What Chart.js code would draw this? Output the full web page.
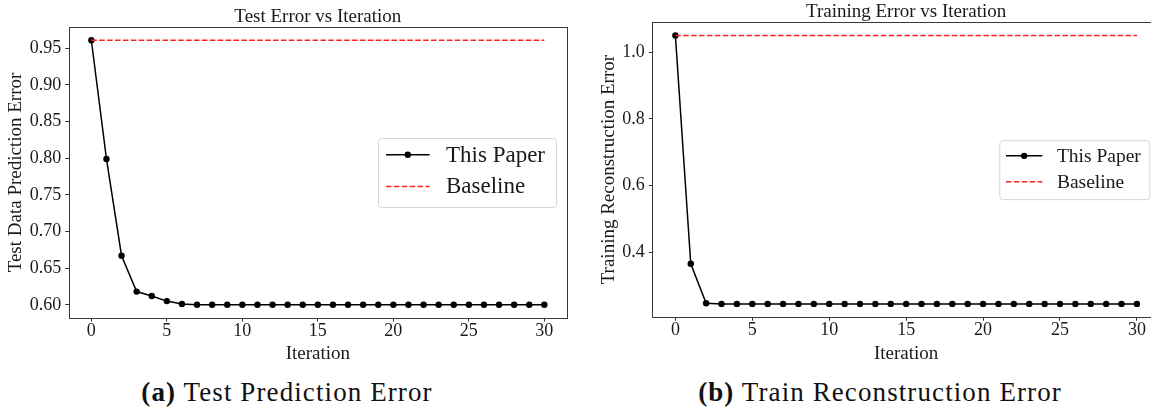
<!DOCTYPE html>
<html>
<head>
<meta charset="utf-8">
<script src="https://cdn.jsdelivr.net/npm/chart.js@4.4.1/dist/chart.umd.min.js"></script>
<style>
  html, body { margin: 0; padding: 0; background: #fff; overflow: hidden; }
  body { width: 1151px; height: 411px; position: relative; font-family: 'Liberation Serif', serif; }
  .box { position: absolute; }
  .cap { position: absolute; top: 377px; font-size: 27px; letter-spacing: 1.1px; color: #111; white-space: nowrap; transform: translateX(-50%); }
  .cap b { font-weight: bold; }
</style>
</head>
<body>
<div class="box" style="left:0;top:0;width:571px;height:366px;"><canvas id="testChart"></canvas></div>
<div class="box" style="left:590px;top:0;width:574px;height:366px;"><canvas id="trainChart"></canvas></div>
<div class="cap" style="left:287px;"><b>(a)</b> Test Prediction Error</div>
<div class="cap" style="left:880px;"><b>(b)</b> Train Reconstruction Error</div>
<script>
const iterations = [0, 1, 2, 3, 4, 5, 6, 7, 8, 9, 10, 11, 12, 13, 14, 15, 16, 17, 18, 19, 20, 21, 22, 23, 24, 25, 26, 27, 28, 29, 30];
const testError = [0.961, 0.799, 0.667, 0.618, 0.612, 0.605, 0.601, 0.600, 0.600, 0.600, 0.600, 0.600, 0.600, 0.600, 0.600, 0.600,
  0.600, 0.600, 0.600, 0.600, 0.600, 0.600, 0.600, 0.600, 0.600, 0.600, 0.600, 0.600, 0.600, 0.600, 0.600];
const trainError = [1.050, 0.366, 0.248, 0.246, 0.246, 0.246, 0.246, 0.246, 0.246, 0.246, 0.246, 0.246, 0.246, 0.246, 0.246, 0.246,
  0.246, 0.246, 0.246, 0.246, 0.246, 0.246, 0.246, 0.246, 0.246, 0.246, 0.246, 0.246, 0.246, 0.246, 0.246];
const testBaseline = 0.961;
const trainBaseline = 1.050;
const xTicks = [0, 5, 10, 15, 20, 25, 30];
const testYTicks = [0.60, 0.65, 0.70, 0.75, 0.80, 0.85, 0.90, 0.95];
const trainYTicks = [0.4, 0.6, 0.8, 1.0];
const seriesNames = ['This Paper', 'Baseline'];

const FONT = "'Liberation Serif', serif";
const INK = '#1a1a1a';

// title, frame and a matplotlib style legend, drawn around the chart area
const decor = {
  id: 'decor',
  beforeDatasetsDraw(chart, args, o) {
    const a = chart.chartArea, ctx = chart.ctx;
    ctx.save();
    ctx.strokeStyle = '#3a3a3a';
    ctx.lineWidth = 1;
    ctx.strokeRect(Math.round(a.left) + 0.5, Math.round(a.top) + 0.5,
      Math.round(a.right - a.left), Math.round(a.bottom - a.top));
    ctx.restore();
  },
  afterDraw(chart, args, o) {
    const a = chart.chartArea, ctx = chart.ctx;
    ctx.save();
    // title
    ctx.fillStyle = INK;
    ctx.font = o.titleSize + 'px ' + FONT;
    ctx.textAlign = 'center';
    ctx.textBaseline = 'middle';
    ctx.fillText(o.title, (a.left + a.right) / 2, o.titleY);
    // legend box
    const bx = a.right - o.right - o.w, by = (a.top + a.bottom) / 2 - o.h / 2;
    ctx.fillStyle = 'rgba(255,255,255,0.85)';
    ctx.strokeStyle = '#d6d6d6';
    ctx.lineWidth = 1;
    ctx.beginPath();
    ctx.roundRect(bx + 0.5, by + 0.5, o.w, o.h, 3);
    ctx.fill();
    ctx.stroke();
    const ds = chart.data.datasets;
    ds.forEach((d, i) => {
      const y = by + o.row0 + i * o.rowGap;
      const x0 = bx + o.lineX, x1 = x0 + o.lineLen;
      ctx.strokeStyle = d.borderColor;
      ctx.lineWidth = d.borderWidth;
      ctx.setLineDash(d.borderDash || []);
      ctx.beginPath();
      ctx.moveTo(x0, y);
      ctx.lineTo(x1, y);
      ctx.stroke();
      ctx.setLineDash([]);
      if (d.pointRadius > 0) {
        ctx.fillStyle = d.pointBackgroundColor;
        ctx.beginPath();
        ctx.arc((x0 + x1) / 2, y, d.pointRadius, 0, Math.PI * 2);
        ctx.fill();
      }
      ctx.fillStyle = INK;
      ctx.font = o.fontSize + 'px ' + FONT;
      ctx.textAlign = 'left';
      ctx.textBaseline = 'middle';
      ctx.fillText(d.label, bx + o.textX, y + 1);
    });
    ctx.restore();
  }
};

function makeChart(id, values, baseline, yTicks, yFmt, yTitle, geo) {
  const lo = Math.min(...values), hi = Math.max(...values, baseline);
  const pad = (hi - lo) * 0.05;
  return new Chart(document.getElementById(id), {
    type: 'line',
    data: {
      datasets: [
        {
          label: seriesNames[0],
          data: iterations.map((x, i) => ({ x: x, y: values[i] })),
          borderColor: '#000',
          borderWidth: 1.5,
          pointRadius: 3.2,
          pointBackgroundColor: '#000',
          pointBorderWidth: 0,
          tension: 0,
          order: 1,
        },
        {
          label: seriesNames[1],
          data: [{ x: iterations[0], y: baseline }, { x: iterations[iterations.length - 1], y: baseline }],
          borderColor: '#ff2020',
          borderWidth: 1.5,
          borderDash: [5.5, 2.4],
          pointRadius: 0,
          order: 0,
        },
      ],
    },
    options: {
      responsive: true,
      maintainAspectRatio: false,
      animation: false,
      layout: { padding: { top: geo.top, left: 0, right: 0, bottom: 0 } },
      plugins: {
        legend: { display: false },
        title: { display: false },
        tooltip: { enabled: false },
        decor: geo.decor,
      },
      scales: {
        x: {
          type: 'linear',
          min: -1.5,
          max: 31.5,
          afterFit: (s) => { s.height = geo.xh; },
          afterBuildTicks: (s) => { s.ticks = xTicks.map((v) => ({ value: v })); },
          grid: { drawOnChartArea: false, drawTicks: true, tickLength: 3.5, color: '#333' },
          border: { display: false },
          ticks: { color: INK, font: { family: FONT, size: 18 }, padding: -1, maxRotation: 0 },
          title: { display: true, text: 'Iteration', color: INK, font: { family: FONT, size: 19 }, padding: { top: 0, bottom: 1 } },
        },
        y: {
          min: lo - pad,
          max: hi + pad,
          afterFit: (s) => { s.width = geo.yw; },
          afterBuildTicks: (s) => { s.ticks = yTicks.map((v) => ({ value: v })); },
          grid: { drawOnChartArea: false, drawTicks: true, tickLength: 3.5, color: '#333' },
          border: { display: false },
          ticks: { color: INK, font: { family: FONT, size: 18 }, padding: 4, callback: (v) => v.toFixed(yFmt) },
          title: { display: true, text: yTitle, color: INK, font: { family: FONT, size: 19 }, padding: { top: geo.ytp, bottom: 0 } },
        },
      },
    },
    plugins: [decor],
  });
}

makeChart('testChart', testError, testBaseline, testYTicks, 2, 'Test Data Prediction Error', {
  top: 27, xh: 48, yw: 68.7, ytp: 5,
  decor: { title: 'Test Error vs Iteration', titleSize: 19, titleY: 16.7,
    w: 178, h: 69, right: 11, row0: 16.7, rowGap: 31.7, lineX: 8, lineLen: 43.6, textX: 68, fontSize: 23 },
});

makeChart('trainChart', trainError, trainBaseline, trainYTicks, 1, 'Training Reconstruction Error', {
  top: 22, xh: 48.7, yw: 62.3, ytp: 7.5,
  decor: { title: 'Training Error vs Iteration', titleSize: 19, titleY: 11.7,
    w: 150, h: 59, right: 10.7, row0: 15.7, rowGap: 26, lineX: 6.7, lineLen: 36.3, textX: 57.6, fontSize: 19.5 },
});
</script>
</body>
</html>
